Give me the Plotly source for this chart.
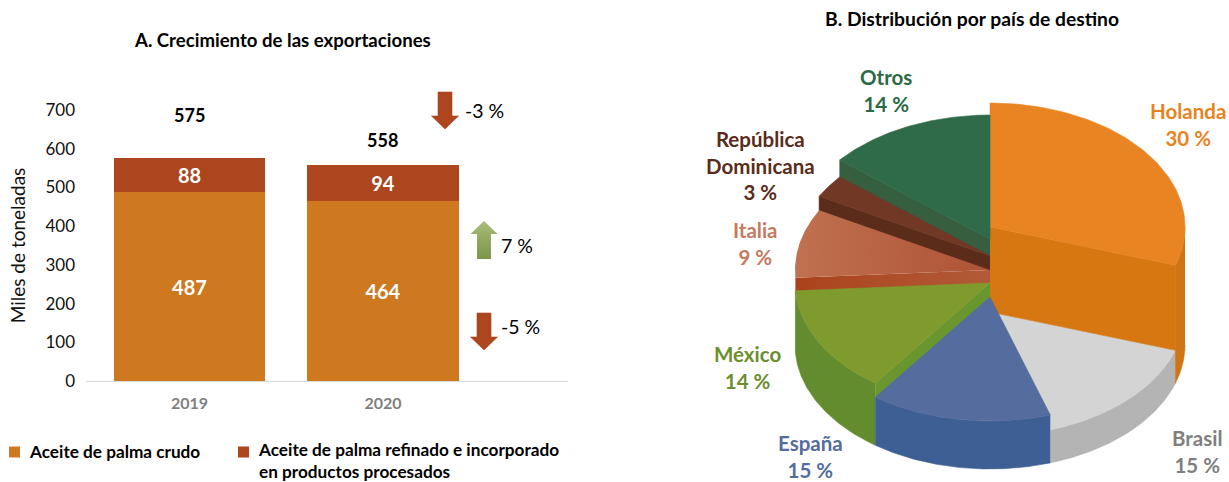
import numpy as np
import plotly.graph_objects as go

# ---------- data ----------
years = ["2019", "2020"]
crudo = [487, 464]
refinado = [88, 94]
totales = [575, 558]
y_ticks = [0, 100, 200, 300, 400, 500, 600, 700]

paises = ["Holanda", "Brasil", "España", "México", "Italia", "República<br>Dominicana", "Otros"]
porcentajes = [30, 15, 15, 14, 9, 3, 14]

# ---------- style / layout ----------
FONT = "Lato"
W, H = 1229, 482
C_CRUDO, C_REF = "#CE7820", "#AD451E"
PLOT_L, PLOT_R, PLOT_T, PLOT_B = 86, 568, 110, 381

# pie: per-wedge (top centre y, cut depth, outer wall bottom-centre y)
CX, A, B = 990, 195, 124
top_cy = [227, 312, 297, 283, 270, 256, 239]
cut_depth = [85, 33, 48, 15, 15, 15, 18]
wall_cy = [345, 345, 345, 345, None, None, None]
c_top = ["#E98422", "#D4D4D4", "#546C9E", "#7F9B2D", None, "#703825", "#2F6B48"]
c_cut = ["#D67711", "#B4B4B4", "#3E5F93", "#6A9630", None, "#5A2C19", "#355F3F"]
c_wall = ["#CF7414", "#B4B4B4", "#3E5F93", "#628C2E", None, None, None]
c_label = ["#E8821E", "#7F7F7F", "#546C9E", "#6C8E2B", "#C47A5E", "#5A2C19", "#2A6A45"]
label_pos = [(1188, 124), (1197, 451), (810, 456), (747, 367), (755, 243), (760, 165), (886, 90)]

fig = go.Figure()

# ---------- bars ----------
for name, vals, col in [("Aceite de palma crudo", crudo, C_CRUDO),
                        ("Aceite de palma refinado e incorporado en productos procesados", refinado, C_REF)]:
    fig.add_trace(go.Bar(x=years, y=vals, name=name, marker=dict(color=col, line_width=0), width=0.785,
                         text=vals, textposition="inside", insidetextanchor="middle", textangle=0,
                         constraintext="none",
                         textfont=dict(family=FONT, size=20, color="white", weight="bold"),
                         showlegend=False, xaxis="x", yaxis="y"))


def poly(xs, ys, color=None, grad=None, line=None):
    kw = dict(x=xs, y=ys, mode="lines", fill="toself", showlegend=False, hoverinfo="skip",
              xaxis="x2", yaxis="y2",
              line=dict(color=line or color or "rgba(0,0,0,0)", width=0.6))
    if grad:
        kw["fillgradient"] = dict(type=grad[0], colorscale=[[0, grad[1]], [1, grad[2]]])
        kw["line"] = dict(width=0)
    else:
        kw["fillcolor"] = color
    fig.add_trace(go.Scatter(**kw))


def arc(cy, t0, t1):
    t = np.radians(np.linspace(t0, t1, 90))
    return CX + A * np.sin(t), cy - B * np.cos(t)


edges = np.concatenate([[0], np.cumsum(porcentajes)]) * 3.6


def wedge(i, grad_top=None, grad_cut=None):
    t0, t1 = edges[i], edges[i + 1]
    cy, d = top_cy[i], cut_depth[i]
    # outer wall: only the front half of the rim (90 to 270 degrees) can be seen
    if wall_cy[i] is not None:
        w0, w1 = max(t0, 90), min(t1, 270)
        xa, ya = arc(cy, w0, w1)
        xb, yb = arc(wall_cy[i], w0, w1)
        poly(np.r_[xa, xb[::-1]], np.r_[ya, yb[::-1]], c_wall[i])
    # cut face: clockwise end for Holanda, counter-clockwise start for the left-hand wedges
    ang = t1 if i == 0 else (t0 if i in (3, 4, 5, 6) else None)
    if ang is not None:
        ex = CX + A * np.sin(np.radians(ang))
        ey = cy - B * np.cos(np.radians(ang))
        xs, ys = [CX, ex, ex, CX], [cy, ey, ey + d, cy + d]
        if grad_cut:
            poly(xs, ys, grad=grad_cut)
        else:
            poly(xs, ys, c_cut[i])
    # top
    xa, ya = arc(cy, t0, t1)
    xs, ys = np.r_[CX, xa, CX], np.r_[cy, ya, cy]
    if grad_top:
        poly(xs, ys, grad=grad_top)
    else:
        poly(xs, ys, c_top[i])


# painter's order
wedge(1)
wedge(0)
wedge(6)
wedge(5)
wedge(4, grad_top=("horizontal", "#C0714F", "#AE5335"), grad_cut=("horizontal", "#AB431C", "#B25A38"))
wedge(3)
wedge(2)


# ---------- arrows ----------
def arrow(cx, y_tail, y_base, y_tip, color=None, grad=None):
    xs = [cx - 7, cx + 7, cx + 7, cx + 13.5, cx, cx - 13.5, cx - 7, cx - 7]
    ys = [y_tail, y_tail, y_base, y_base, y_tip, y_base, y_base, y_tail]
    poly(xs, ys, color, grad=grad)


arrow(445, 92, 116, 129, C_REF)
arrow(484, 313, 337, 350, C_REF)
arrow(484, 259, 234, 221, grad=("vertical", "#7C9548", "#A8BC78"))

# legend swatches
fig.add_trace(go.Scatter(x=[14.5, 243.5], y=[452, 452], mode="markers", showlegend=False, hoverinfo="skip",
                         marker=dict(symbol="square", size=11, color=[C_CRUDO, C_REF]), xaxis="x2", yaxis="y2"))


# ---------- text ----------
def txt(x, y, s, size=17, color="#000000", bold=False, anchor="center"):
    return dict(x=x, y=y, xref="x2", yref="y2", text=s, showarrow=False, xanchor=anchor, yanchor="middle",
                align="center" if anchor == "center" else "left",
                font=dict(family=FONT, size=size, color=color, weight="bold" if bold else "normal"))


ann = [
    txt(282, 40, "A. Crecimiento de las exportaciones", 18.6, bold=True),
    txt(972, 18.5, "B. Distribución por país de destino", 19.3, bold=True),
    txt(189, 115, str(totales[0]), 18, bold=True),
    txt(382, 140, str(totales[1]), 18, bold=True),
    txt(463, 110, "-3 %", 19.5, anchor="left"),
    txt(499, 245, "7 %", 19.5, anchor="left"),
    txt(499, 326, "-5 %", 19.5, anchor="left"),
    txt(27, 451, "Aceite de palma crudo", 17.2, bold=True, anchor="left"),
    txt(256, 460, "Aceite de palma refinado e incorporado<br>en productos procesados", 17.2, bold=True, anchor="left"),
]
for p, v, c, (lx, ly) in zip(paises, porcentajes, c_label, label_pos):
    ann.append(txt(lx, ly, f"{p}<br>{v} %", 20.5, c, True))

fig.update_layout(
    width=W, height=H, margin=dict(l=0, r=0, t=0, b=0, pad=0, autoexpand=False),
    paper_bgcolor="white", plot_bgcolor="rgba(0,0,0,0)", barmode="stack", bargap=0.2,
    showlegend=False, annotations=ann,
    xaxis=dict(domain=[PLOT_L / W, PLOT_R / W], type="category", range=[-0.535, 1.956], autorange=False,
               showgrid=False, zeroline=False, showline=True, linecolor="#D9D9D9", linewidth=1, ticks="",
               ticklabelstandoff=8, tickfont=dict(family=FONT, size=16, color="#7F7F7F", weight="bold")),
    yaxis=dict(domain=[(H - PLOT_B) / H, (H - PLOT_T) / H], range=[0, 700], autorange=False,
               tickvals=y_ticks, showgrid=False, zeroline=False, showline=False, ticks="",
               ticklabelstandoff=10, tickfont=dict(family=FONT, size=17, color="#111111"),
               title=dict(text="Miles de toneladas", standoff=14, font=dict(family=FONT, size=19, color="#111111"))),
    xaxis2=dict(domain=[0, 1], range=[0, W], autorange=False, visible=False, anchor="y2"),
    yaxis2=dict(domain=[0, 1], range=[H, 0], autorange=False, visible=False, anchor="x2"),
)

fig.write_html("out.html", config={"displayModeBar": False}, post_script="document.body.style.margin='0';")
